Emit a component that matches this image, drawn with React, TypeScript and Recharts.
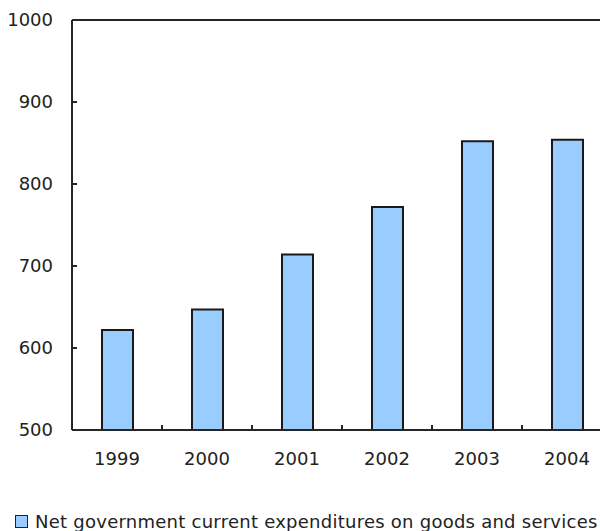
import { Bar, BarChart, Legend, ReferenceLine, XAxis, YAxis } from "recharts";

const years = ["1999", "2000", "2001", "2002", "2003", "2004"];
const spending = [622, 647, 714, 772, 852, 854];
const yTicks = [500, 600, 700, 800, 900, 1000];
const seriesName = "Net government current expenditures on goods and services";

const FONT = '"DejaVu Sans", Verdana, sans-serif';
const INK = "#262626";
const BAR = "#99ccff";
const Y_GAP = 19;
const X_GAP = 22;

const rows = years.map((year, i) => ({ year, value: spending[i] }));

// tick marks point inward, so they are drawn here next to the label
const YTick = (props: any) => {
  const { x, y, payload } = props;
  const axisX = x + Y_GAP;
  return (
    <g>
      <line x1={axisX} x2={axisX + 5} y1={y} y2={y} stroke={INK} strokeWidth={2} />
      <text
        x={x}
        y={y}
        dy="0.355em"
        textAnchor="end"
        fill="#222"
        fontSize={18}
        fontFamily={FONT}
      >
        {payload.value}
      </text>
    </g>
  );
};

// category ticks sit on the band edges, labels in the band centre
const XTick = (props: any) => {
  const { x, y, payload } = props;
  const axisY = y - X_GAP;
  const edge = x - (payload.offset || 0);
  return (
    <g>
      {payload.index > 0 && (
        <line x1={edge} x2={edge} y1={axisY} y2={axisY - 5} stroke={INK} strokeWidth={2} />
      )}
      <text
        x={x}
        y={y}
        dy="0.71em"
        textAnchor="middle"
        fill="#222"
        fontSize={18}
        fontFamily={FONT}
      >
        {payload.value}
      </text>
    </g>
  );
};

const LegendBox = () => (
  <div
    style={{
      display: "flex",
      alignItems: "center",
      fontFamily: FONT,
      fontSize: 18,
      letterSpacing: 0.25,
      color: "#222",
      whiteSpace: "nowrap",
      height: 20,
    }}
  >
    <span
      style={{
        display: "inline-block",
        width: 11,
        height: 11,
        background: BAR,
        border: "1px solid #222",
        marginRight: 7,
      }}
    />
    {seriesName}
  </div>
);

export default function App() {
  return (
    <div
      style={{
        position: "absolute",
        left: 0,
        top: 0,
        width: 600,
        height: 531,
        overflow: "hidden",
        background: "#fff",
      }}
    >
      <BarChart
        width={620}
        height={531}
        data={rows}
        margin={{ top: 20, right: 8, left: 0, bottom: 0 }}
        barCategoryGap={0}
      >
        <XAxis
          dataKey="year"
          height={81}
          axisLine={{ stroke: INK, strokeWidth: 2 }}
          tickLine={false}
          tickSize={0}
          tickMargin={X_GAP}
          tick={XTick}
        />
        <YAxis
          width={72}
          domain={[500, 1000]}
          ticks={yTicks}
          allowDataOverflow
          axisLine={{ stroke: INK, strokeWidth: 2 }}
          tickLine={false}
          tickSize={0}
          tickMargin={Y_GAP}
          tick={YTick}
        />
        <ReferenceLine y={1000} stroke={INK} strokeWidth={2} />
        <Legend
          verticalAlign="bottom"
          align="left"
          content={() => <LegendBox />}
          wrapperStyle={{ left: 15, bottom: 0, width: "auto", height: 20 }}
        />
        <Bar
          dataKey="value"
          name={seriesName}
          fill={BAR}
          stroke="#1a1a1a"
          strokeWidth={2}
          barSize={31}
          isAnimationActive={false}
        />
      </BarChart>
    </div>
  );
}
